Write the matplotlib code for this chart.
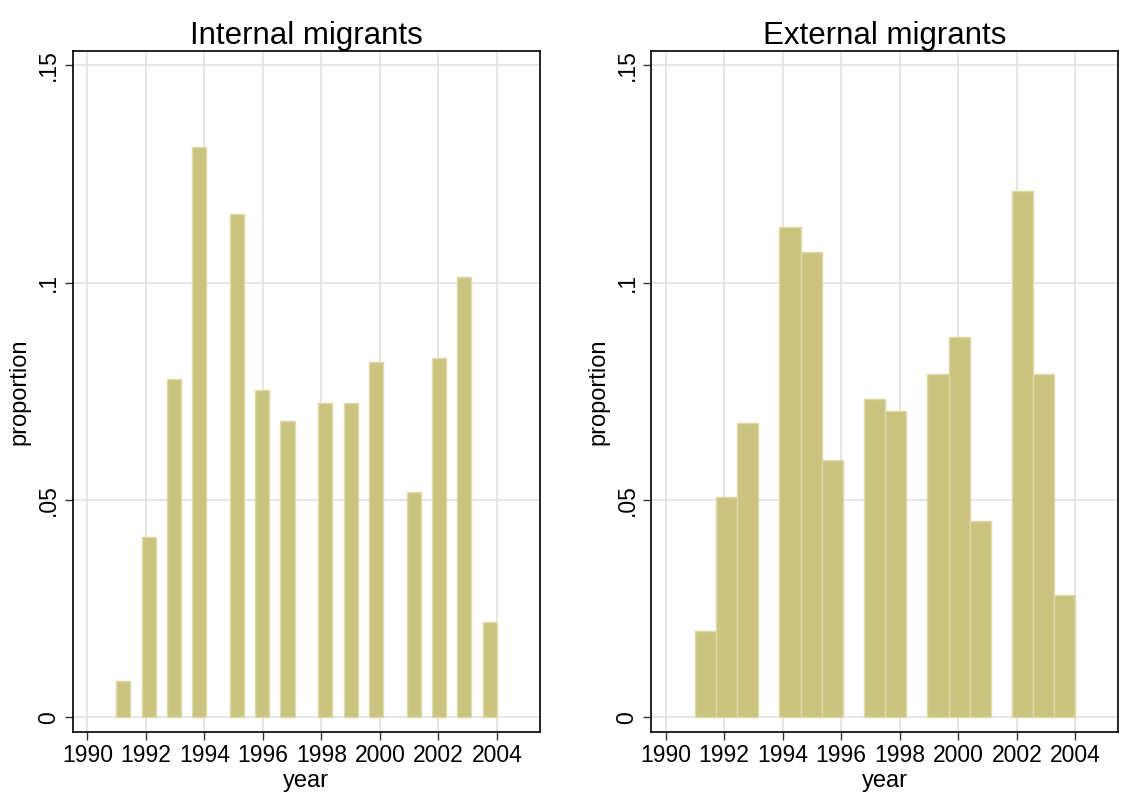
import matplotlib
matplotlib.use('Agg')
import matplotlib.pyplot as plt
import numpy as np

plt.rcParams['font.family'] = ['Liberation Sans', 'DejaVu Sans']

# Internal migrants: bar centres (year) and proportions
internal_x = [1991.22, 1992.10, 1992.95, 1993.82, 1995.10, 1995.97, 1996.84,
              1998.13, 1999.00, 1999.86, 2001.16, 2002.02, 2002.88, 2003.76]
internal_y = [0.0083, 0.0414, 0.0778, 0.1311, 0.1158, 0.0754, 0.0681,
              0.0722, 0.0722, 0.0818, 0.0519, 0.0826, 0.1012, 0.0220]

# External migrants: histogram, 18 bins from 1991 to 2004
external_edges = np.linspace(1991, 2004, 19)
external_y = [0.0198, 0.0508, 0.0677, 0.0, 0.1128, 0.1071, 0.0592, 0.0,
              0.0733, 0.0705, 0.0, 0.0789, 0.0874, 0.0451, 0.0, 0.1212,
              0.0789, 0.0282]

titles = ['Internal migrants', 'External migrants']
xticks = list(range(1990, 2005, 2))
yticks = [0, 0.05, 0.1, 0.15]
ytick_labels = ['0', '.05', '.1', '.15']

bar_color = '#cbc481'
edge_color = '#dedaa6'
grid_color = '#e1e1e1'

fig = plt.figure(figsize=(11.23, 7.94), dpi=100)
ax1 = fig.add_axes([0.0647, 0.0785, 0.4162, 0.8573])
ax2 = fig.add_axes([0.5797, 0.0785, 0.4162, 0.8573])

ax1.bar(internal_x, internal_y, width=0.48, color=bar_color,
        edgecolor=edge_color, linewidth=1, zorder=3)

# empty bins are not drawn
ext_y = np.array(external_y)
left = external_edges[:-1]
widths = np.diff(external_edges)
keep = ext_y > 0
ax2.bar(left[keep], ext_y[keep], width=widths[keep], align='edge',
        color=bar_color, edgecolor=edge_color, linewidth=1, zorder=3)

for ax, title in zip([ax1, ax2], titles):
    ax.set_xlim(1989.5, 2005.47)
    ax.set_ylim(-0.0033, 0.1533)
    ax.set_xticks(xticks)
    ax.set_yticks(yticks)
    ax.set_yticklabels(ytick_labels, rotation=90, va='center')
    ax.tick_params(labelsize=16.5, length=6, width=1, color='#333333', pad=3)
    ax.grid(True, color=grid_color, linewidth=1.2, zorder=0)
    ax.set_axisbelow(True)
    for s in ax.spines.values():
        s.set_linewidth(1.2)
        s.set_color('black')
    ax.set_title(title, fontsize=22.5, pad=5)
    ax.set_xlabel('year', fontsize=17, labelpad=2)
    ax.set_ylabel('proportion', fontsize=17, labelpad=4.5)

fig.savefig('out.png', dpi=100)
